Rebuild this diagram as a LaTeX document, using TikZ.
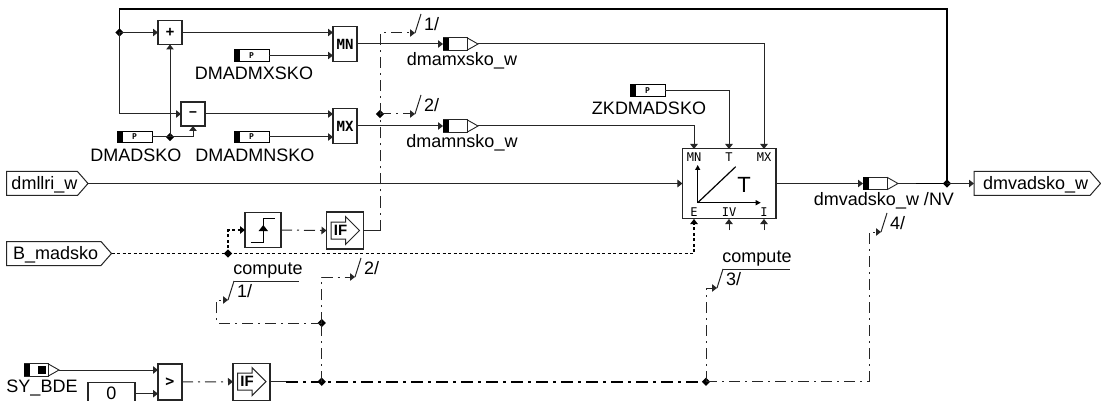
\documentclass[tikz,border=0pt]{standalone}
\usepackage{fontspec}
\setmainfont{Liberation Sans}
\newfontfamily\glyphfont{DejaVu Sans Mono}
\usetikzlibrary{arrows.meta,shapes.geometric,calc}
\tikzset{
  line/.style={draw=black!85,line width=1pt},
  tip/.style={-{Triangle[length=5pt,width=7.5pt]}},
  thickline/.style={draw=black,line width=1.5pt},
  dotline/.style={draw=black,line width=1.4pt,dash pattern=on 3pt off 2.5pt},
  dashdot/.style={draw=black!85,line width=1pt,dash pattern=on 11pt off 5pt on 2pt off 5pt},
  thickdash/.style={draw=black,line width=1.8pt,dash pattern=on 12pt off 5pt on 3pt off 5pt},
  block/.style={draw=black!85,fill=white,line width=1.1pt,inner sep=0pt,outer sep=0pt,font=\glyphfont\bfseries\fontsize{14}{14}\selectfont},
  parm/.style={draw=black,fill=white,line width=0.9pt,inner sep=0pt,outer sep=0pt,minimum width=35pt,minimum height=11.5pt,
    font=\glyphfont\bfseries\fontsize{8}{8}\selectfont,
    path picture={\fill[black] (path picture bounding box.north west) rectangle ([xshift=5.5pt]path picture bounding box.south west);}},
  lab/.style={inner sep=0pt,outer sep=0pt,font=\fontsize{18}{20}\selectfont},
  sm/.style={inner sep=0pt,outer sep=0pt,font=\glyphfont\fontsize{12}{12}\selectfont},
  jdot/.style={diamond,fill=black,draw=none,inner sep=0pt,minimum size=8.5pt},
  var/.style={inner sep=0pt,outer sep=0pt,draw=none,minimum height=24pt,font=\fontsize{18}{20}\selectfont},
}
\newcommand{\varmark}[3]{%
  \node[inner sep=0pt,outer sep=0pt,minimum width=35pt,minimum height=12.5pt] (#1) at (#2,#3) {};
  \draw[black!85,line width=0.9pt] ([xshift=24pt]#1.north west) -- (#1.east) -- ([xshift=24pt]#1.south west);
  \draw[black!85,line width=0.9pt] ([xshift=24pt]#1.north west) rectangle (#1.south west);
  \fill[black] (#1.north west) rectangle ([xshift=5.5pt]#1.south west);}
\newcommand{\port}[6]{%
  \path let \n1={#3-#2} in node[var,minimum width=\n1 pt] (#1) at ({(#2+#3)/2},#4) {};
  \draw[black!85,line width=1pt] (#1.north west) -- ([xshift=-10.5pt]#1.north east) -- (#1.east) -- ([xshift=-10.5pt]#1.south east) -- (#1.south west) -- cycle;
  \node[var,minimum height=0pt,anchor=base west] at ([xshift=#6 pt,yshift=-6pt]#1.west) {#5};}
\newcommand{\ifblock}[3]{%
  \node[block,minimum width=37pt,minimum height=37pt] (#1) at (#2,#3) {};
  \draw[black!85,line width=1pt] ([shift={(4.5pt,8.5pt)}]#1.west) -- ([shift={(19pt,8.5pt)}]#1.west) -- ([shift={(19pt,14pt)}]#1.west) -- ([xshift=33pt]#1.west) -- ([shift={(19pt,-14pt)}]#1.west) -- ([shift={(19pt,-8.5pt)}]#1.west) -- ([shift={(4.5pt,-8.5pt)}]#1.west) -- cycle;
  \node[inner sep=0pt,font=\fontsize{15}{15}\bfseries\selectfont] at ([xshift=14pt]#1.west) {IF};}
\newcommand{\wflag}[4]{%
  \coordinate (#1) at (#2,#3);
  \draw[line width=1pt,black!85] (#1) -- ([shift={(6pt,19pt)}]#1);
  \node[lab,anchor=west] at ([shift={(9pt,9pt)}]#1) {#4};}
\begin{document}
\begin{tikzpicture}[x=1pt,y=-1pt]
\useasboundingbox (0,0) rectangle (1101,401);
\fill[white] (0,0) rectangle (1101,401);
% blocks
\node[block,minimum width=24pt,minimum height=24pt] (plus) at (170,32.5) {+};
\node[block,minimum width=24pt,minimum height=24pt,font=\glyphfont\bfseries\fontsize{13}{13}\selectfont] (minus) at (193,114) {−};
\node[block,minimum width=24pt,minimum height=35pt] (mn) at (345,44) {MN};
\node[block,minimum width=24pt,minimum height=35pt] (mx) at (345,126) {MX};
\node[parm] (pmx) at (251.5,55.5) {P};
\node[parm] (pmn) at (251.5,137) {P};
\node[parm] (pds) at (134.5,137) {P};
\node[parm] (pzk) at (647.5,90.5) {P};
\node[lab] at (254,73) {DMADMXSKO};
\node[lab] at (136,155) {DMADSKO};
\node[lab] at (255,155) {DMADMNSKO};
\node[lab] at (649,108) {ZKDMADSKO};
\varmark{vmx}{460.5}{44}
\varmark{vmn}{460.5}{126}
\varmark{vnv}{880.5}{183.5}
\node[lab] at (462,61) {dmamxsko\_w};
\node[lab] at (462,143) {dmamnsko\_w};
\node[lab] at (884,201) {dmvadsko\_w /NV};
\port{pll}{6.5}{88}{183.5}{dmllri\_w}{5}
\port{pb}{6.5}{111.5}{253.5}{B\_madsko}{6.5}
\port{pout}{974}{1100.5}{183.5}{dmvadsko\_w}{9}
% T block
\node[block,minimum width=93.5pt,minimum height=70pt] (tb) at (729.2,183.5) {};
\coordinate (tmn) at (694,149);
\coordinate (tt) at (729,149);
\coordinate (tmx) at (764,149);
\coordinate (te) at (694,219);
\coordinate (tiv) at (729,219);
\coordinate (ti) at (764,219);
\coordinate (tivs) at (729,230);
\coordinate (tis) at (764,230);
\node[sm] at (694,157) {MN};
\node[sm] at (729,157) {T};
\node[sm] at (764,157) {MX};
\node[sm] at (694,212.5) {E};
\node[sm] at (729,212.5) {IV};
\node[sm] at (764,212.5) {I};
\coordinate (org) at (697.7,202.7);
\coordinate (orgy) at (697.7,165);
\coordinate (orgx) at (760.7,202.7);
\coordinate (orgd) at (735.7,166.7);
\draw[line width=1.2pt,-{Triangle[length=5pt,width=5pt]}] (org) -- (orgy);
\draw[line width=1.2pt,-{Triangle[length=5pt,width=5pt]}] (org) -- (orgx);
\draw[line width=1.2pt] (org) -- (orgd);
\node[inner sep=0pt,font=\fontsize{22}{22}\selectfont] at (744,185) {T};
% step block
\node[block,minimum width=36pt,minimum height=35pt] (stp) at (263,230) {};
\draw[line width=1.2pt] (250.7,242.3) -- (263.3,242.3) -- (263.3,218.3) -- (275,218.3);
\fill[black] (263.3,225) -- (268,231) -- (258.6,231) -- cycle;
\ifblock{if1}{345}{230.5}
\ifblock{if2}{251.5}{381.7}
% comparator and constant
\node[block,minimum width=24pt,minimum height=36pt,font=\glyphfont\bfseries\fontsize{15}{15}\selectfont] (cmp) at (170,382) {>};
\node[draw=black!85,fill=white,line width=1.1pt,inner sep=0pt,outer sep=0pt,minimum width=47pt,minimum height=22pt,font=\fontsize{18}{20}\selectfont] (zero) at (111.5,393.7) {0};
% SY_BDE
\varmark{vsy}{41.5}{370}
\fill[black] (38,366) rectangle (46,374);
\node[lab] at (42,388) {SY\_BDE};
% junctions
\node[jdot] (j1) at (119.5,32.5) {};
\node[jdot] (j2) at (170,137) {};
\node[jdot] (j3) at (380,114) {};
\node[jdot] (j4) at (228,253.5) {};
\node[jdot] (j5) at (321.7,323) {};
\node[jdot] (j6) at (321.7,381.7) {};
\node[jdot] (j7) at (706,381.7) {};
\node[jdot] (j8) at (947,183.5) {};
% flags
\wflag{f1}{415}{33}{1/}
\wflag{f2}{415}{114}{2/}
\wflag{f3}{355}{277}{2/}
\wflag{f4}{881}{232}{4/}
\wflag{c1}{228}{300}{1/}
\wflag{c2}{717}{288}{3/}
\coordinate (c1o) at (233.5,281);
\coordinate (c1e) at (299,281);
\coordinate (c2o) at (722.5,269);
\coordinate (c2e) at (790,269);
\draw[line] (c1o) -- (c1e);
\draw[line] (c2o) -- (c2e);
\node[lab] at (268,271) {compute};
\node[lab] at (757,259) {compute};
% routing points
\coordinate (topl) at (119.5,9);
\coordinate (thk) at (916,183.5);
\coordinate (vf1) at (380,33);
\coordinate (vb) at (380,230.5);
\coordinate (c1a) at (216.5,323);
\coordinate (c1b) at (216.5,300);
\coordinate (v3) at (321.7,277);
\coordinate (v7) at (706,288);
\coordinate (vr) at (869,381.7);
\coordinate (vr2) at (869,232);
\coordinate (sth) at (286,381.7);
% solid wires
\draw[thickline] (j8.center) |- (topl) -- (j1.center);
\draw[line,tip] (j1.center) -- (plus.west);
\draw[line,tip] (j1.center) |- (minus.west);
\draw[line,tip] (plus.east) -- (plus.east -| mn.west);
\draw[line,tip] (pmx.east) -- (pmx.east -| mn.west);
\draw[line,tip] (minus.east) -- (minus.east -| mx.west);
\draw[line,tip] (pmn.east) -- (pmn.east -| mx.west);
\draw[line] (pds.east) -- (j2.center);
\draw[line,tip] (j2.center) -- (plus.south);
\draw[line,tip] (j2.center) -| (minus.south);
\draw[line,tip] (mn.east) -- (vmx.west);
\draw[line,tip] (mx.east) -- (vmn.west);
\draw[line,tip] (vmx.east) -| (tmx);
\draw[line,tip] (vmn.east) -| (tmn);
\draw[line,tip] (pzk.east) -| (tt);
\draw[line,tip] (pll.east) -- (tb.west);
\draw[line,tip] (tb.east) -- (vnv.west);
\draw[line] (vnv.east) -- (thk);
\draw[thickline] (thk) -- (j8.center);
\draw[line,tip] (j8.center) -- (pout.west);
\draw[line,tip] (tivs) -- (tiv);
\draw[line,tip] (tis) -- (ti);
\draw[line,tip] (vsy.east) -- (vsy.east -| cmp.west);
\draw[line,tip] (zero.east) -- (zero.east -| cmp.west);
% dotted
\draw[dotline] (pb.east) -- (j4.center);
\draw[dotline,tip,line width=1.1pt] (j4.center) -| (te);
\draw[dotline,tip,line width=1.1pt] (j4.center) |- (stp.west);
% dash-dot
\draw[dashdot,tip] (stp.east) -- (if1.west);
\draw[line] (if1.east) -- (vb);
\draw[dashdot] (vb) -- (j3.center);
\draw[dashdot,tip] (j3.center) |- (vf1) -- (f1);
\draw[dashdot,tip] (j3.center) -- (f2);
\draw[dashdot,tip] (cmp.east) -- (if2.west);
\draw[line] (if2.east) -- (sth);
\draw[thickdash] (sth) -- (j6.center) -- (j7.center);
\draw[dashdot] (j7.center) -- (vr);
\draw[dashdot,tip] (vr) -- (vr2) -- (f4);
\draw[dashdot] (j6.center) -- (j5.center);
\draw[dashdot,tip] (j5.center) -- (v3) -- (f3);
\draw[dashdot,tip] (j5.center) -- (c1a) -- (c1b) -- (c1);
\draw[dashdot,tip] (j7.center) -- (v7) -- (c2);
\end{tikzpicture}
\end{document}
